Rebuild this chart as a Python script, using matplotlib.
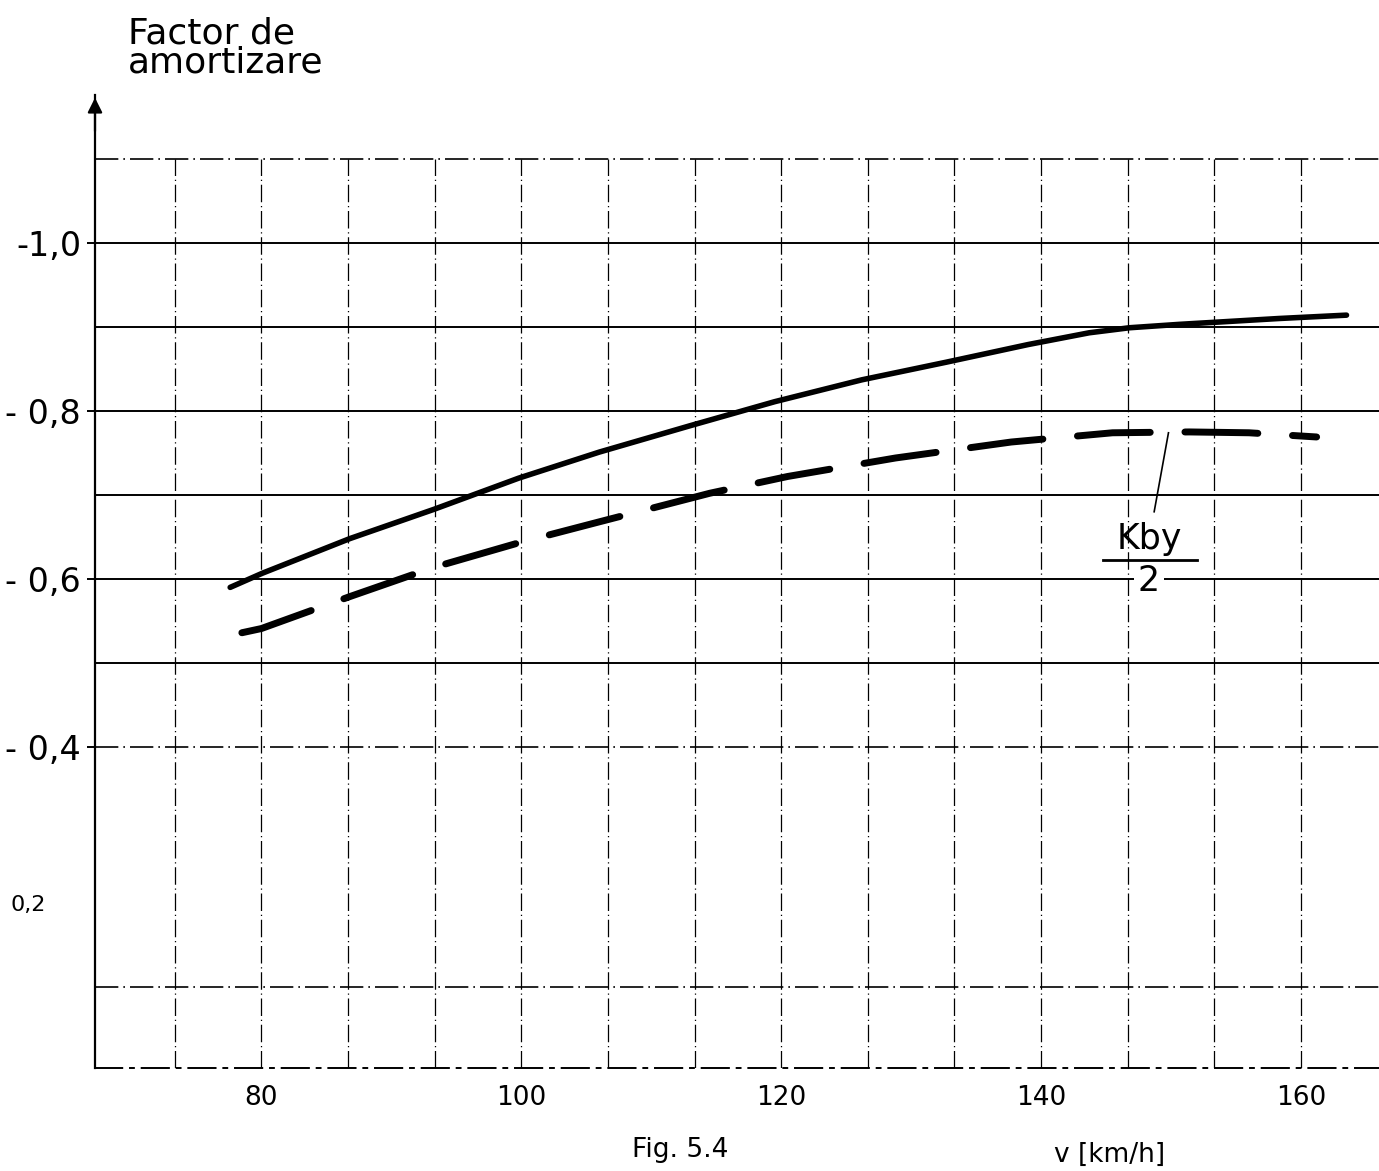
import numpy as np
import matplotlib.pyplot as plt

# speed v [km/h] and damping factor
v_solid = [77.6, 80.1, 86.8, 93.3, 99.8, 106.0, 112.9, 119.5, 126.2, 132.7, 139.0, 143.7, 146.8, 150.6, 158.3, 163.5]
k_solid = [-0.590, -0.607, -0.648, -0.683, -0.720, -0.751, -0.782, -0.811, -0.837, -0.858, -0.879, -0.893, -0.899, -0.903, -0.910, -0.914]

v_dashed = [78.5, 80.0, 86.8, 93.3, 99.8, 106.0, 114.5, 120.5, 128.8, 137.7, 145.5, 151.4, 156.0, 161.2]
k_dashed = [-0.536, -0.541, -0.579, -0.614, -0.643, -0.668, -0.702, -0.722, -0.744, -0.763, -0.774, -0.775, -0.774, -0.769]

x_ticks = [80, 100, 120, 140, 160]
x_tick_labels = ['80', '100', '120', '140', '160']
y_ticks = [-1.0, -0.8, -0.6, -0.4]
y_tick_labels = ['-1,0', '- 0,8', '- 0,6', '- 0,4']

x_grid = [80 + k * 20 / 3 for k in range(-1, 13)]
h_solid = [-1.0, -0.9, -0.8, -0.7, -0.6, -0.5]
h_dashdot = [-1.1, -0.4, -0.114]

fig = plt.figure(figsize=(13.79, 11.71), dpi=100)
ax = fig.add_axes([95 / 1379, 1 - 1068 / 1171, 1 - 95 / 1379, (1068 - 95) / 1171])
ax.set_xlim(67.2, 166.0)
ax.set_ylim(-0.018, -1.176)

# grid, drawn like the technical sheet
ax.vlines(x_grid, -0.018, -1.1, colors='black', linewidth=0.9, linestyles=(0, (14, 3, 1, 3)))
ax.hlines(h_solid, 67.2, 166.0, colors='black', linewidth=1.4)
ax.hlines(h_dashdot, 67.2, 166.0, colors='black', linewidth=1.2, linestyles=(0, (14, 3, 1, 3)))

# curves
ax.plot(v_solid, k_solid, color='black', linewidth=4.0, solid_capstyle='round', solid_joinstyle='round')
ax.plot(v_dashed, k_dashed, color='black', linewidth=5.0, dashes=(10.5, 5), dash_capstyle='round')

# Kby/2 label with leader
ax.plot([149.8, 148.7], [-0.774, -0.680], color='black', linewidth=1.2)
ax.text(148.3, -0.648, 'Kby', ha='center', va='center', fontsize=25)
ax.text(148.3, -0.597, '2', ha='center', va='center', fontsize=25,
        bbox=dict(facecolor='white', edgecolor='none', pad=3))
ax.plot([144.8, 152.0], [-0.623, -0.623], color='black', linewidth=2.0, zorder=5)

# axes
for s in ['top', 'right']:
    ax.spines[s].set_visible(False)
ax.spines['left'].set_linewidth(1.6)
ax.spines['bottom'].set_linewidth(1.4)
ax.spines['bottom'].set_linestyle((0, (14, 4, 2, 4)))
ax.annotate('', xy=(0, 1.0), xytext=(0, 0.96), xycoords='axes fraction',
            arrowprops=dict(arrowstyle='-|>', color='black', lw=1.6, mutation_scale=22))

ax.set_xticks(x_ticks)
ax.set_xticklabels(x_tick_labels, fontsize=19)
ax.set_yticks(y_ticks)
ax.set_yticklabels(y_tick_labels, fontsize=24)
ax.tick_params(axis='x', length=0, pad=12)
ax.tick_params(axis='y', length=6, width=1.4, pad=4)
ax.text(-0.038, -0.212, '0,2', transform=ax.get_yaxis_transform(), ha='right', va='center', fontsize=16)

fig.text(128 / 1379, 1 - 16 / 1171, 'Factor de\namortizare', ha='left', va='top',
         fontsize=26, linespacing=0.85)
fig.text(680 / 1379, 1 - 1150 / 1171, 'Fig. 5.4', ha='center', va='center', fontsize=19)
fig.text(1110 / 1379, 1 - 1155 / 1171, 'v [km/h]', ha='center', va='center', fontsize=19)

fig.savefig('out.png', dpi=100)
